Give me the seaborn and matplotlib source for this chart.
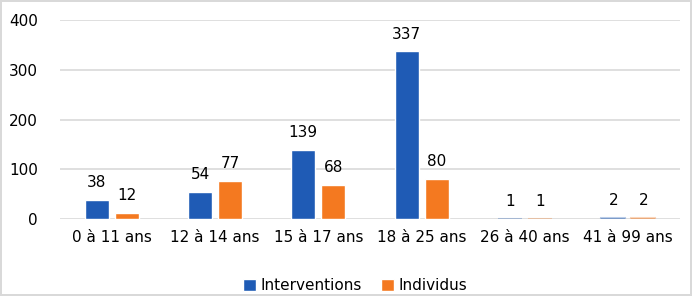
import matplotlib
matplotlib.use("Agg")
import matplotlib.pyplot as plt
import seaborn as sns
import pandas as pd

categories = ["0 à 11 ans", "12 à 14 ans", "15 à 17 ans", "18 à 25 ans", "26 à 40 ans", "41 à 99 ans"]
interventions = [38, 54, 139, 337, 1, 2]
individus = [12, 77, 68, 80, 1, 2]
series_names = ["Interventions", "Individus"]
colors = ["#1F5BB5", "#F47920"]

df = pd.DataFrame({
    "cat": categories * 2,
    "val": interventions + individus,
    "serie": [series_names[0]] * len(categories) + [series_names[1]] * len(categories),
})

sns.set_style("white")
plt.rcParams['font.family'] = ['DejaVu Sans']
plt.rcParams['text.color'] = 'black'

fig = plt.figure(figsize=(6.92, 2.96), dpi=100)
ax = fig.add_axes([60/692, 77/296, 620/692, (219-20)/296])

sns.barplot(data=df, x="cat", y="val", hue="serie", palette=colors, width=0.58, gap=0.2,
            ax=ax, saturation=1, legend=True)

# faded tiny bars like reference
for patch, v in zip(ax.patches, interventions + individus):
    if v < 5:
        patch.set_alpha(0.3)
        patch.set_edgecolor(patch.get_facecolor())
        patch.set_linewidth(1.5)

ax.set_ylim(0, 400)
ax.set_yticks([0, 100, 200, 300, 400])
ax.yaxis.grid(True, color="#D9D9D9", linewidth=1.2)
ax.set_axisbelow(True)
for s in ax.spines.values():
    s.set_visible(False)
ax.tick_params(axis="both", length=0, labelsize=11, colors="#000000")
ax.tick_params(axis="y", pad=16)
ax.tick_params(axis="x", pad=8)
ax.set_xlabel("")
ax.set_ylabel("")

for cont in ax.containers:
    ax.bar_label(cont, padding=7, fontsize=11, color="black")

h, l = ax.get_legend_handles_labels()
ax.legend_.remove()
leg = fig.legend(h, l, loc="center", bbox_to_anchor=(355/692, 10/296), ncol=2, frameon=False,
                 fontsize=11, handlelength=0.85, handleheight=0.85, handletextpad=0.25,
                 columnspacing=1.3, labelcolor="black")

fig.patch.set_edgecolor("#D9D9D9")
fig.patch.set_linewidth(1.5)
fig.savefig("out.png", dpi=100)
